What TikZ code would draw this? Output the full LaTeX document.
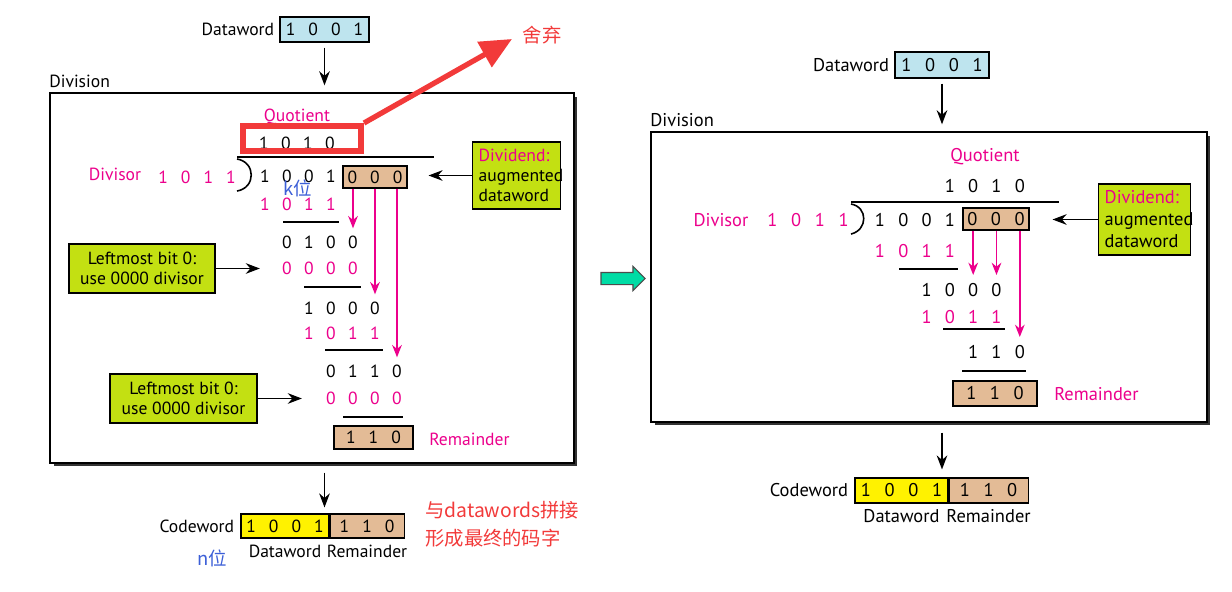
\documentclass[tikz,border=0pt]{standalone}
\usepackage{fontspec}
\setmainfont{PT Sans}
\newfontfamily\cjk{Noto Sans CJK SC}
\usepackage{tikz}
\usetikzlibrary{positioning, arrows.meta, shapes.arrows, shadows}

\definecolor{rose}{RGB}{236,0,140}
\definecolor{redmark}{RGB}{242,58,58}
\definecolor{leaf}{RGB}{195,224,18}
\definecolor{sand}{RGB}{227,187,150}
\definecolor{sky}{RGB}{190,228,238}
\definecolor{kblue}{RGB}{60,95,215}
\definecolor{mint}{RGB}{0,220,165}

\newcommand{\bitgap}{\hspace{0.74em}}

\begin{document}
\begin{tikzpicture}[
    x=0.02cm, y=-0.02cm, % one unit is one pixel of the 1232x592 frame
    every node/.style={inner sep=0pt, font=\fontsize{10}{12}\selectfont},
    arr/.style={-{Stealth[length=8pt, width=6pt]}, line width=1.1pt},
    parr/.style={-{Stealth[length=7pt, width=5.5pt]}, draw=rose, line width=1pt},
    divbox/.style={draw, line width=0.8pt, fill=white,
        drop shadow={shadow xshift=0.07cm, shadow yshift=-0.07cm, fill=black!80, opacity=1}},
    sandbox/.style={draw, fill=sand, line width=0.6pt},
    skybox/.style={draw, fill=sky, line width=0.6pt},
    yelbox/.style={draw, fill=yellow, line width=0.6pt},
    notebox/.style={draw, fill=leaf, line width=0.8pt, align=center, font=\fontsize{10}{11.5}\selectfont},
    rosetext/.style={text=rose},
    bluetext/.style={text=kblue, font=\cjk\fontsize{10.5}{12}\selectfont},
    rule/.style={line width=0.7pt}
]
    \useasboundingbox (0,0) rectangle (1232,592);

    % 1. Left diagram: the full long division
    \node[skybox, minimum width=1.78cm, minimum height=0.5cm] (ldw) at (324.5,29.5) {1\bitgap 0\bitgap 0\bitgap 1};
    \node[left=0.1cm of ldw] (ldwlab) {Dataword};

    \node[divbox, minimum width=10.48cm, minimum height=7.4cm] (ldiv) at (312,278) {};
    \node[anchor=west] (ldivlab) at (49,81) {Division};
    \draw[arr, shorten <=0.1cm, shorten >=0.14cm] (ldw.south) -- (ldw.south |- ldiv.north);

    % quotient, boxed in red and thrown away
    \node[rosetext] (lqlab) at (297,117) {Quotient};
    \foreach \b [count=\i] in {1,0,1,0}
        \node (lq-\i) at ({242+22*\i},143) {\b};
    \node[draw=redmark, line width=3.4pt, minimum width=2.36cm, minimum height=0.5cm] (lqbox) at (302,138.5) {};
    \coordinate (ltip) at (512,39);
    \node[text=redmark, font=\cjk\fontsize{11}{13}\selectfont] (ldrop) at (542,35) {舍弃};
    \draw[redmark, line width=3pt, -{Triangle[length=18pt, width=16pt]}] (lqbox.north east) -- (ltip);

    % divisor and dividend
    \draw[rule] (237,157) -- (434,157);
    \draw[line width=0.9pt] (237,159) .. controls (256,162) and (256,188) .. (237,191);
    \node[rosetext] (ldvlab) at (115,174) {Divisor};
    \node[rosetext] (ldvs) at (197,177) {1\bitgap 0\bitgap 1\bitgap 1};
    \foreach \b [count=\i] in {1,0,0,1}
        \node (ld-\i) at ({243+22*\i},176) {\b};
    \node[sandbox, minimum width=1.28cm, minimum height=0.44cm] (ltan) at (375,177) {0\bitgap 0\bitgap 0};
    \node[bluetext] (lk) at (298,188) {k位};

    \node[notebox, align=left, text width=1.52cm, inner sep=0.12cm, minimum height=1.34cm, anchor=west] (lnote) at (472,175.5)
        {\textcolor{rose}{Dividend:}\\augmented\\dataword};
    \draw[arr, shorten >=0.42cm] (lnote.west) -- (lnote.west -| ltan.east);

    % the steps
    \foreach \b [count=\i] in {1,0,1,1}
        \node[rosetext] (lr1-\i) at ({243+22*\i},204) {\b};
    \draw[rule] (283,222) -- (339,222);
    \foreach \b [count=\i] in {0,1,0,0}
        \node (lr2-\i) at ({265+22*\i},242) {\b};
    \foreach \b [count=\i] in {0,0,0,0}
        \node[rosetext] (lr3-\i) at ({265+22*\i},268) {\b};
    \draw[rule] (304,287) -- (361,287);
    \foreach \b [count=\i] in {1,0,0,0}
        \node (lr4-\i) at ({287+22*\i},308) {\b};
    \foreach \b [count=\i] in {1,0,1,1}
        \node[rosetext] (lr5-\i) at ({287+22*\i},333) {\b};
    \draw[rule] (325,350) -- (383,350);
    \foreach \b [count=\i] in {0,1,1,0}
        \node (lr6-\i) at ({309+22*\i},371) {\b};
    \foreach \b [count=\i] in {0,0,0,0}
        \node[rosetext] (lr7-\i) at ({309+22*\i},398) {\b};
    \draw[rule] (343,417) -- (403,417);
    \node[sandbox, minimum width=1.58cm, minimum height=0.46cm] (lrem) at (373.5,437.5) {1\bitgap 1\bitgap 0};
    \node[rosetext, anchor=west] (lremlab) at (429,439) {Remainder};

    % bits brought down
    \draw[parr, shorten >=0.14cm] (ltan.south -| lr2-4) -- (lr2-4.north);
    \draw[parr, shorten >=0.14cm] (ltan.south -| lr4-4) -- (lr4-4.north);
    \draw[parr, shorten >=0.14cm] (ltan.south -| lr6-4) -- (lr6-4.north);

    \node[notebox, minimum width=2.92cm, minimum height=0.98cm] (lzero1) at (142,268.5) {Leftmost bit 0:\\use 0000 divisor};
    \draw[arr, shorten >=0.44cm] (lzero1.east) -- (lzero1.east -| lr3-1.west);
    \node[notebox, minimum width=2.94cm, minimum height=0.98cm] (lzero2) at (183.5,398.5) {Leftmost bit 0:\\use 0000 divisor};
    \draw[arr, shorten >=0.48cm] (lzero2.east) -- (lzero2.east -| lr7-1.west);

    % codeword
    \node[yelbox, minimum width=1.76cm, minimum height=0.48cm] (lcwd) at (285,526) {1\bitgap 0\bitgap 0\bitgap 1};
    \node[sandbox, minimum width=1.48cm, minimum height=0.48cm, right=0pt of lcwd] (lcwr) {1\bitgap 1\bitgap 0};
    \node[left=0.12cm of lcwd] (lcwlab) {Codeword};
    \node[below=0.12cm of lcwd] (lcwdlab) {Dataword};
    \node[below=0.12cm of lcwr] (lcwrlab) {Remainder};
    \draw[arr, shorten <=0.18cm, shorten >=0.12cm] (ldiv.south -| ldw) -- (lcwd.north -| ldw);
    \node[bluetext] (ln) at (212,558) {n位};
    \node[text=redmark, font=\cjk\fontsize{11}{16}\selectfont, align=left, anchor=west] (lmerge) at (425,524)
        {与datawords拼接\\形成最终的码字};

    % 2. Arrow between the two diagrams
    \node[single arrow, fill=mint, draw=black!70, line width=0.6pt, minimum height=0.88cm, minimum width=0.46cm,
        inner xsep=0pt, inner ysep=0.11cm, single arrow head extend=0.12cm, single arrow tip angle=90] (mid) at (620,278.5) {};

    % 3. Right diagram: the short form
    \begin{scope}[every node/.append style={font=\fontsize{10.5}{12.5}\selectfont}]
    \node[skybox, minimum width=1.88cm, minimum height=0.52cm] (rdw) at (942,65) {1\bitgap 0\bitgap 0\bitgap 1};
    \node[left=0.1cm of rdw] (rdwlab) {Dataword};

    \node[divbox, minimum width=11.12cm, minimum height=5.8cm] (rdiv) at (929,277) {};
    \node[anchor=west] (rdivlab) at (650,120) {Division};
    \draw[arr, shorten <=0.1cm, shorten >=0.14cm] (rdw.south) -- (rdw.south |- rdiv.north);

    \node[rosetext] (rqlab) at (985,157) {Quotient};
    \foreach \b [count=\i] in {1,0,1,0}
        \node (rq-\i) at ({926.6+23.3*\i},186) {\b};

    \draw[rule] (851,202) -- (1059,202);
    \draw[line width=0.9pt] (851,204) .. controls (868,207) and (868,230) .. (851,234);
    \node[rosetext] (rdvlab) at (721,220) {Divisor};
    \node[rosetext] (rdvs) at (808,220) {1\bitgap 0\bitgap 1\bitgap 1};
    \foreach \b [count=\i] in {1,0,0,1}
        \node (rd-\i) at ({856.7+23.3*\i},220) {\b};
    \node[sandbox, minimum width=1.32cm, minimum height=0.44cm] (rtan) at (996,219) {0\bitgap 0\bitgap 0};

    \node[notebox, align=left, text width=1.6cm, inner sep=0.12cm, minimum height=1.42cm, anchor=west,
        font=\fontsize{10.5}{12.5}\selectfont] (rnote) at (1098,219.5)
        {\textcolor{rose}{Dividend:}\\augmented\\dataword};
    \draw[arr, shorten >=0.46cm] (rnote.west) -- (rnote.west -| rtan.east);

    \foreach \b [count=\i] in {1,0,1,1}
        \node[rosetext] (rr1-\i) at ({856.7+23.3*\i},251) {\b};
    \draw[rule] (899,269) -- (958,269);
    \foreach \b [count=\i] in {1,0,0,0}
        \node (rr2-\i) at ({903.3+23.3*\i},290) {\b};
    \foreach \b [count=\i] in {1,0,1,1}
        \node[rosetext] (rr3-\i) at ({903.3+23.3*\i},317) {\b};
    \draw[rule] (943,329) -- (1005,329);
    \foreach \b [count=\i] in {1,1,0}
        \node (rr4-\i) at ({949.9+23.3*\i},352) {\b};
    \draw[rule] (962,371) -- (1026,371);
    \node[sandbox, minimum width=1.68cm, minimum height=0.5cm] (rrem) at (995,393.5) {1\bitgap 1\bitgap 0};
    \node[rosetext, anchor=west] (rremlab) at (1054,394) {Remainder};

    \draw[parr, shorten >=0.16cm] (rtan.south -| rr2-3) -- (rr2-3.north);
    \draw[parr, shorten >=0.16cm] (rtan.south -| rr2-4) -- (rr2-4.north);
    \draw[parr, shorten >=0.16cm] (rtan.south -| rr4-3) -- (rr4-3.north);

    \node[yelbox, minimum width=1.86cm, minimum height=0.5cm] (rcwd) at (901.5,490.5) {1\bitgap 0\bitgap 0\bitgap 1};
    \node[sandbox, minimum width=1.58cm, minimum height=0.5cm, right=0pt of rcwd] (rcwr) {1\bitgap 1\bitgap 0};
    \node[left=0.12cm of rcwd] (rcwlab) {Codeword};
    \node[below=0.12cm of rcwd] (rcwdlab) {Dataword};
    \node[below=0.12cm of rcwr] (rcwrlab) {Remainder};
    \draw[arr, shorten <=0.2cm, shorten >=0.16cm] (rdiv.south -| rdw) -- (rcwd.north -| rdw);
    \end{scope}
\end{tikzpicture}
\end{document}
